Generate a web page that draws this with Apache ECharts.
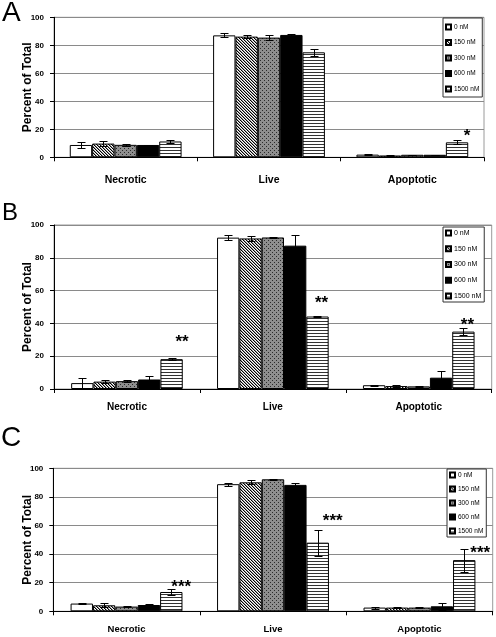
<!DOCTYPE html>
<html><head><meta charset="utf-8">
<script src="https://cdn.jsdelivr.net/npm/echarts@6/dist/echarts.min.js"></script>
<style>html,body{margin:0;padding:0;background:#fff}#c{width:496px;height:637px}</style>
</head><body><div id="c"></div>
<script>
// ---------- data ----------
const categories = ['Necrotic', 'Live', 'Apoptotic'];
const doses = ['0 nM', '150 nM', '300 nM', '600 nM', '1500 nM'];
const yTicks = [0, 20, 40, 60, 80, 100];
const panelLabels = ['A', 'B', 'C'];

// Panel A (mean, error) per dose, order: Necrotic, Live, Apoptotic
const A_0nM = [8.8, 87.1, 1.9];     const A_0nM_err = [2.4, 1.5, 0.2];
const A_150nM = [9.8, 86.2, 1.3];   const A_150nM_err = [1.5, 1.3, 0.3];
const A_300nM = [8.9, 85.5, 1.8];   const A_300nM_err = [0.9, 2.0, 0.2];
const A_600nM = [8.8, 87.4, 1.8];   const A_600nM_err = [0.2, 0.4, 0.2];
const A_1500nM = [11.3, 75.0, 10.7]; const A_1500nM_err = [1.0, 2.5, 1.4];
const A_sig = ['', '', '*'];

// Panel B
const B_0nM = [3.6, 92.3, 2.3];     const B_0nM_err = [3.0, 1.5, 0.2];
const B_150nM = [4.5, 91.8, 1.8];   const B_150nM_err = [1.0, 1.6, 0.4];
const B_300nM = [4.8, 92.4, 1.6];   const B_300nM_err = [0.5, 0.3, 0.2];
const B_600nM = [5.8, 87.4, 6.9];   const B_600nM_err = [2.0, 6.7, 3.9];
const B_1500nM = [18.2, 44.2, 35.0]; const B_1500nM_err = [0.7, 0.5, 2.0];
const B_sig = ['**', '**', '**'];

// Panel C
const C_0nM = [5.4, 88.9, 2.6];     const C_0nM_err = [0.5, 1.0, 0.7];
const C_150nM = [4.2, 90.2, 2.6];   const C_150nM_err = [1.5, 1.5, 0.2];
const C_300nM = [3.3, 92.3, 2.6];   const C_300nM_err = [0.3, 0.5, 0.2];
const C_600nM = [4.4, 88.4, 3.5];   const C_600nM_err = [0.5, 1.0, 2.3];
const C_1500nM = [13.5, 48.0, 35.8]; const C_1500nM_err = [2.0, 9.0, 8.0];
const C_sig = ['***', '***', '***'];

// ---------- styling / layout ----------
const FONT = '"Liberation Sans",Arial,sans-serif';
const PLAIN = '"Liberation Sans",Arial,sans-serif';

function pattern(kind) {
  const c = document.createElement('canvas');
  const ctx = c.getContext('2d');
  if (kind === 'diag') {
    c.width = 3; c.height = 3;
    ctx.fillStyle = '#fff'; ctx.fillRect(0, 0, 3, 3);
    for (let i = 0; i < 3; i++) {
      ctx.fillStyle = '#000'; ctx.fillRect(i, i, 1, 1);
      ctx.fillStyle = '#9a9a9a'; ctx.fillRect((i + 1) % 3, i, 1, 1);
    }
  } else if (kind === 'dots') {
    c.width = 4; c.height = 4;
    ctx.fillStyle = '#8e8e8e'; ctx.fillRect(0, 0, 4, 4);
    ctx.fillStyle = '#2a2a2a';
    ctx.fillRect(0, 0, 1, 1); ctx.fillRect(2, 2, 1, 1);
  } else if (kind === 'hlines') {
    c.width = 4; c.height = 3;
    ctx.fillStyle = '#fff'; ctx.fillRect(0, 0, 4, 3);
    ctx.fillStyle = '#333'; ctx.fillRect(0, 0, 4, 1);
  }
  return { image: c, repeat: 'repeat' };
}
const fills = ['#ffffff', pattern('diag'), pattern('dots'), '#000000', pattern('hlines')];

const panels = [
  { vals: [A_0nM, A_150nM, A_300nM, A_600nM, A_1500nM],
    errs: [A_0nM_err, A_150nM_err, A_300nM_err, A_600nM_err, A_1500nM_err],
    sig: A_sig,
    grid: { left: 54, right: 12, top: 17.3, bottom: 479.7 },
    gap: 0.22, catFont: 10.5, catMargin: 17,
    legend: { left: 443, top: 18, itemGap: 7.5, padding: [5, 3, 4, 2], fontSize: 6.5 },
    starOff: [[0, 0], [0, 0], [10, -8]],
    label: { left: 2, top: -1, fontSize: 28 } },
  { vals: [B_0nM, B_150nM, B_300nM, B_600nM, B_1500nM],
    errs: [B_0nM_err, B_150nM_err, B_300nM_err, B_600nM_err, B_1500nM_err],
    sig: B_sig,
    grid: { left: 54, right: 4.3, top: 225, bottom: 248 },
    gap: 0.235, catFont: 10, catMargin: 13,
    legend: { left: 443, top: 227, itemGap: 7.75, padding: [2, 3, 2, 2], fontSize: 7 },
    starOff: [[10.5, -20], [4, -16], [4, -7]],
    label: { left: 2, top: 201, fontSize: 24 } },
  { vals: [C_0nM, C_150nM, C_300nM, C_600nM, C_1500nM],
    errs: [C_0nM_err, C_150nM_err, C_300nM_err, C_600nM_err, C_1500nM_err],
    sig: C_sig,
    grid: { left: 53.3, right: 3.3, top: 468.3, bottom: 25.7 },
    gap: 0.236, catFont: 9.5, catMargin: 13,
    legend: { left: 447, top: 469, itemGap: 6, padding: [2, 3, 2, 2], fontSize: 6.5 },
    starOff: [[10, -6], [15, -12], [16, 1]],
    label: { left: 1, top: 424, fontSize: 28 } }
];

const grids = [], xAxes = [], yAxes = [], series = [], legends = [], titles = [];

panels.forEach((p, pi) => {
  grids.push(Object.assign({ show: true, borderColor: '#9a9a9a', borderWidth: 1, backgroundColor: 'transparent' }, p.grid));
  xAxes.push({
    type: 'category', gridIndex: pi, data: categories,
    axisLine: { lineStyle: { color: '#000', width: 1 } },
    axisTick: { show: true, length: 4, lineStyle: { color: '#000' } },
    axisLabel: { color: '#000', fontFamily: FONT, fontWeight: 'bold', fontSize: p.catFont, margin: p.catMargin },
    splitLine: { show: false }
  });
  yAxes.push({
    type: 'value', gridIndex: pi, min: yTicks[0], max: yTicks[yTicks.length - 1], interval: yTicks[1] - yTicks[0],
    name: 'Percent of Total', nameLocation: 'middle', nameGap: 20, nameRotate: 90, nameMoveOverlap: false,
    nameTextStyle: { color: '#000', fontFamily: PLAIN, fontSize: 12, fontWeight: 'bold' },
    axisLine: { show: true, lineStyle: { color: '#000', width: 1 } },
    axisTick: { show: true, length: 4, lineStyle: { color: '#000' } },
    axisLabel: { color: '#000', fontFamily: FONT, fontWeight: 'bold', fontSize: 8, margin: 10 },
    splitLine: { show: true, lineStyle: { color: '#8a8a8a', width: 1 } }
  });
  doses.forEach((d, di) => {
    series.push({
      type: 'bar', name: d, xAxisIndex: pi, yAxisIndex: pi,
      data: p.vals[di], barGap: '0%', barCategoryGap: (p.gap * 100) + '%',
      itemStyle: { color: fills[di], borderColor: '#000', borderWidth: 1 },
      emphasis: { disabled: true }, animation: false
    });
  });
  const errData = [];
  doses.forEach((d, di) => categories.forEach((c, ci) => errData.push([ci, p.vals[di][ci], p.errs[di][ci], di])));
  const gap = p.gap;
  series.push({
    type: 'custom', name: 'err' + pi, xAxisIndex: pi, yAxisIndex: pi, z: 5, clip: false, animation: false,
    data: errData,
    renderItem: function (params, api) {
      const ci = api.value(0), v = api.value(1), e = api.value(2), di = api.value(3);
      const band = api.size([1, 0])[0];
      const bw = band * (1 - gap) / 5;
      const cx = Math.round(api.coord([ci, 0])[0] + (di - 2) * bw) + 0.5;
      const yt = Math.round(api.coord([ci, v + e])[1]) + 0.5;
      const yb = Math.round(api.coord([ci, Math.max(v - e, 0)])[1]) + 0.5;
      const hw = 4;
      const st = { stroke: '#000', lineWidth: 1 };
      return { type: 'group', children: [
        { type: 'line', shape: { x1: cx, y1: yt, x2: cx, y2: yb }, style: st },
        { type: 'line', shape: { x1: cx - hw, y1: yt, x2: cx + hw, y2: yt }, style: st },
        { type: 'line', shape: { x1: cx - hw, y1: yb, x2: cx + hw, y2: yb }, style: st }
      ] };
    }
  });
  const starData = [];
  categories.forEach((c, ci) => { if (p.sig[ci]) starData.push([ci, p.vals[4][ci] + p.errs[4][ci], p.sig[ci], ci]); });
  const off = p.starOff;
  series.push({
    type: 'custom', name: 'sig' + pi, xAxisIndex: pi, yAxisIndex: pi, z: 6, clip: false, animation: false,
    data: starData,
    renderItem: function (params, api) {
      const ci = api.value(0), top = api.value(1), ix = api.value(3);
      const band = api.size([1, 0])[0];
      const bw = band * (1 - gap) / 5;
      const pt = api.coord([ci, top]);
      const x = pt[0] + 2 * bw + off[ix][0];
      const y = pt[1] + off[ix][1];
      return { type: 'text', x: x, y: y + 4, style: {
        text: starData[params.dataIndex][2], fill: '#000', font: 'bold 17px ' + PLAIN,
        align: 'center', verticalAlign: 'middle' } };
    }
  });
  legends.push({
    data: doses, orient: 'vertical', left: p.legend.left, top: p.legend.top,
    itemGap: p.legend.itemGap, itemWidth: 5, itemHeight: 5, icon: 'rect',
    padding: p.legend.padding, borderColor: '#333', borderWidth: 1, backgroundColor: '#fff',
    selectedMode: false,
    textStyle: { color: '#000', fontFamily: FONT, fontSize: p.legend.fontSize, lineHeight: 8, padding: [0, 0, 0, -2] }
  });
  titles.push({ text: panelLabels[pi], left: p.label.left, top: p.label.top, padding: 0,
    textStyle: { fontFamily: PLAIN, fontWeight: 'normal', fontSize: p.label.fontSize, color: '#000' } });
});

const chart = echarts.init(document.getElementById('c'), null, { renderer: 'canvas' });
chart.setOption({
  animation: false, backgroundColor: '#fff',
  title: titles, grid: grids, xAxis: xAxes, yAxis: yAxes, legend: legends, series: series
});
</script></body></html>
